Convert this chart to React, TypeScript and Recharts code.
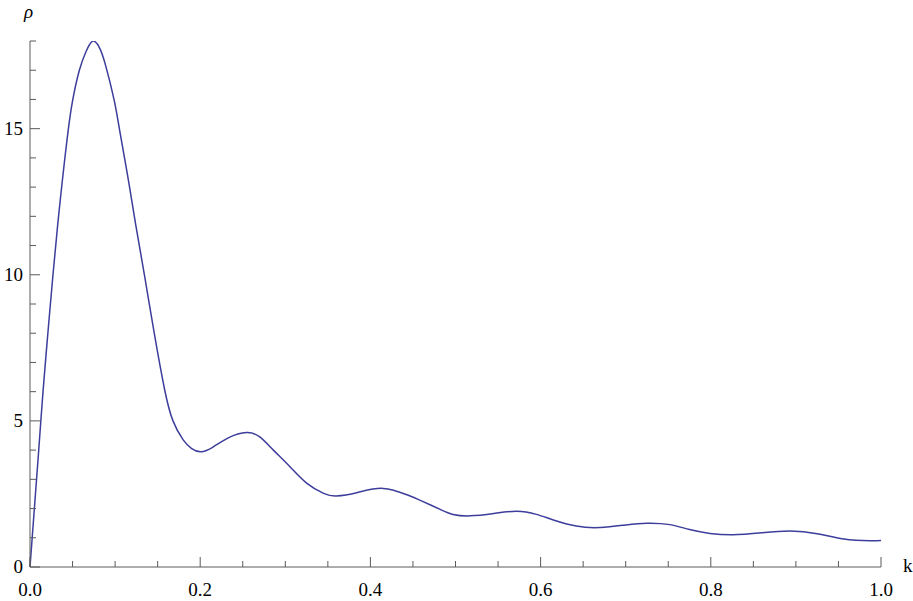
import { LineChart, Line, XAxis, YAxis } from 'recharts';

const kValues = [
    0, 0.005, 0.01, 0.0153, 0.021, 0.027, 0.0325, 0.0368, 0.041, 0.0447, 0.0497, 0.058, 0.066, 0.074,
    0.082, 0.089, 0.0987, 0.105, 0.112, 0.117, 0.124, 0.135, 0.146, 0.158, 0.168, 0.18, 0.19, 0.201,
    0.215, 0.233, 0.2546, 0.27, 0.286, 0.3055, 0.325, 0.345, 0.36, 0.385, 0.415, 0.443, 0.458, 0.482,
    0.497, 0.517, 0.545, 0.572, 0.595, 0.615, 0.642, 0.67, 0.7, 0.725, 0.752, 0.775, 0.799, 0.826,
    0.86, 0.893, 0.925, 0.956, 0.987, 1.0,
];
const rhoValues = [
    0, 1.95, 3.9, 6.0, 8.0, 10.0, 11.7, 12.9, 14.0, 14.9, 15.9, 17.0, 17.65, 18.0,
    17.75, 17.15, 16.0, 15.0, 13.85, 13.0, 11.75, 9.9, 8.0, 6.1, 5.0, 4.35, 4.05, 3.94,
    4.1, 4.42, 4.6, 4.45, 4.0, 3.43, 2.87, 2.52, 2.43, 2.55, 2.69, 2.47, 2.29, 1.97,
    1.8, 1.75, 1.83, 1.91, 1.8, 1.61, 1.4, 1.35, 1.44, 1.5, 1.45, 1.28, 1.15, 1.1,
    1.17, 1.23, 1.14, 0.96, 0.9, 0.91,
];
const xTicks = [
    0, 0.05, 0.1, 0.15, 0.2, 0.25, 0.3, 0.35, 0.4, 0.45, 0.5, 0.55, 0.6, 0.65, 0.7, 0.75, 0.8, 0.85,
    0.9, 0.95, 1.0,
];
const yTicks = [0, 1, 2, 3, 4, 5, 6, 7, 8, 9, 10, 11, 12, 13, 14, 15, 16, 17, 18];

const data = kValues.map((k, i) => ({ k, rho: rhoValues[i] }));

const axisColor = '#5a5a5a';
const font = '"Liberation Serif", "Times New Roman", Times, serif';

const XTick = (props: any) => {
    const { x, y, payload } = props;
    const v = payload.value;
    const major = Math.abs(v * 5 - Math.round(v * 5)) < 1e-6;
    return (
        <g>
            <line x1={x} x2={x} y1={y} y2={y - (major ? 10 : 6)} stroke={axisColor} strokeWidth={1} />
            {major && (
                <text x={x} y={y + 29} textAnchor="middle" style={{ fontFamily: font }} fontSize={19} fill="#000">
                    {v.toFixed(1)}
                </text>
            )}
        </g>
    );
};

const YTick = (props: any) => {
    const { x, y, payload } = props;
    const v = payload.value;
    const major = v % 5 === 0;
    return (
        <g>
            <line x1={x} x2={x + (major ? 10 : 6)} y1={y} y2={y} stroke={axisColor} strokeWidth={1} />
            {major && (
                <text x={x - 7} y={y + 6} textAnchor="end" style={{ fontFamily: font }} fontSize={19} fill="#000">
                    {v}
                </text>
            )}
        </g>
    );
};

export default function App() {
    return (
        <div style={{ position: 'absolute', left: 0, top: 0, width: 913, height: 601, background: '#fff' }}>
            <LineChart width={913} height={601} data={data} margin={{ top: 41, right: 32, left: 0, bottom: 0 }}>
                <XAxis
                    dataKey="k"
                    type="number"
                    domain={[0, 1]}
                    ticks={xTicks}
                    height={34}
                    tickSize={0}
                    tickMargin={0}
                    tickLine={false}
                    axisLine={{ stroke: axisColor, strokeWidth: 1 }}
                    tick={<XTick />}
                    interval={0}
                />
                <YAxis
                    type="number"
                    domain={[0, 18]}
                    ticks={yTicks}
                    width={30}
                    tickSize={0}
                    tickMargin={0}
                    tickLine={false}
                    axisLine={{ stroke: axisColor, strokeWidth: 1 }}
                    tick={<YTick />}
                    interval={0}
                    allowDataOverflow
                />
                <Line
                    type="natural"
                    dataKey="rho"
                    stroke="#3d3d9c"
                    strokeWidth={1.5}
                    dot={false}
                    isAnimationActive={false}
                />
            </LineChart>
            <span style={{ position: 'absolute', left: 24, top: 1, fontFamily: font, fontStyle: 'italic', fontSize: 19 }}>
                ρ
            </span>
            <span style={{ position: 'absolute', left: 903, top: 555, fontFamily: font, fontSize: 19 }}>k</span>
        </div>
    );
}
